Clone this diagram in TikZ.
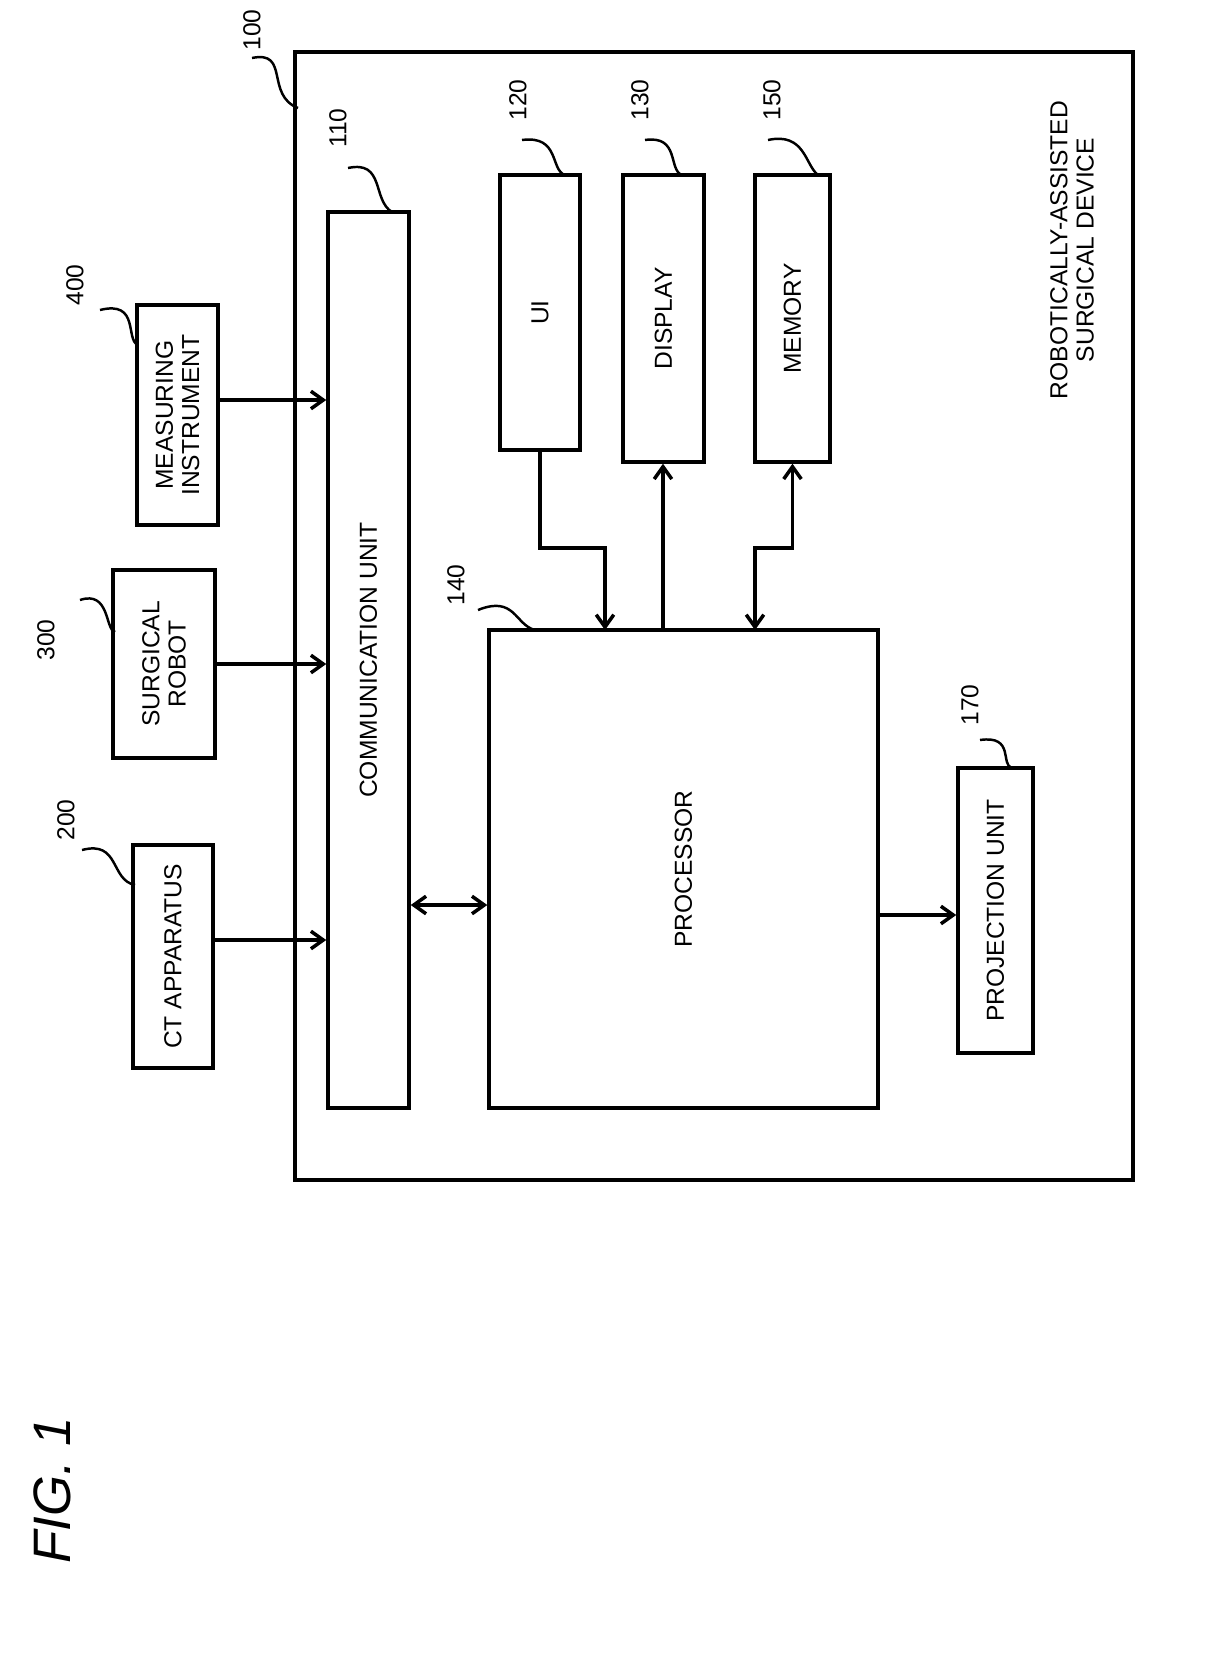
\documentclass[tikz,border=0pt]{standalone}
\usepackage{fontspec}
\setmainfont{Liberation Sans}
\usetikzlibrary{arrows.meta}
\begin{document}
\begin{tikzpicture}[x=0.02cm,y=-0.02cm,line width=2pt,
	box/.style={draw,inner sep=0pt,font=\fontsize{14}{15}\selectfont},
	txt/.style={rotate=90,align=center,font=\fontsize{14}{15}\selectfont},
	num/.style={rotate=90,font=\fontsize{14}{15}\selectfont},
	arr/.style={-{Straight Barb[length=7pt,width=10pt]}},
	darr/.style={{Straight Barb[length=7pt,width=10pt]}-{Straight Barb[length=7pt,width=10pt]}},
	lead/.style={line width=1.4pt}]
	\useasboundingbox (0,0) rectangle (1217,1654);
	% outer device
	\node[box,minimum width=16.76cm,minimum height=22.56cm] (dev) at (714,616) {};
	\node[txt] (devtxt) at (1072,250) {ROBOTICALLY-ASSISTED\\SURGICAL DEVICE};
	% blocks inside
	\node[box,minimum width=1.62cm,minimum height=17.92cm] (comm) at (368.5,660) {};
	\node[txt] at (comm) {COMMUNICATION UNIT};
	\node[box,minimum width=1.6cm,minimum height=5.5cm] (ui) at (540,312.5) {};
	\node[txt] at (ui) {UI};
	\node[box,minimum width=1.62cm,minimum height=5.74cm] (disp) at (663.5,318.5) {};
	\node[txt] at (disp) {DISPLAY};
	\node[box,minimum width=1.5cm,minimum height=5.74cm] (mem) at (792.5,318.5) {};
	\node[txt] at (mem) {MEMORY};
	\node[box,minimum width=7.78cm,minimum height=9.56cm] (proc) at (683.5,869) {};
	\node[txt] at (proc) {PROCESSOR};
	\node[box,minimum width=1.5cm,minimum height=5.7cm] (proj) at (995.5,910.5) {};
	\node[txt] at (proj) {PROJECTION UNIT};
	% outside blocks
	\node[box,minimum width=1.6cm,minimum height=4.46cm] (ct) at (173,956.5) {};
	\node[txt] at (ct) {CT APPARATUS};
	\node[box,minimum width=2.04cm,minimum height=3.76cm] (robot) at (164,664) {};
	\node[txt] at (robot) {SURGICAL\\ROBOT};
	\node[box,minimum width=1.62cm,minimum height=4.4cm] (meas) at (177.5,415) {};
	\node[txt] at (meas) {MEASURING\\INSTRUMENT};
	% helper points
	\coordinate (uiin) at (605,630);
	\coordinate (dispout) at (663,630);
	\coordinate (memin) at (755,630);
	% connectors
	\draw[arr] (ct.east |- 0,940) -- (comm.west |- 0,940);
	\draw[arr] (robot.east) -- (robot.east -| comm.west);
	\draw[arr] (meas.east |- 0,400) -- (comm.west |- 0,400);
	\draw[darr] (comm.east |- 0,905) -- (proc.west |- 0,905);
	\draw[arr] (proc.east |- 0,915) -- (proj.west |- 0,915);
	\draw[arr] (ui.south) -- (ui.south |- 0,548) -| (uiin);
	\draw[arr] (dispout) -- (dispout |- disp.south);
	\draw[darr] (memin) -- (memin |- 0,548) -| (mem.south);
	% reference numerals
	\node[num] (n100) at (252,30) {100};
	\draw[lead] (252,58) .. controls (290,50) and (265,95) .. (298,108);
	\node[num] (n110) at (338,128) {110};
	\draw[lead] (348,168) .. controls (385,160) and (372,200) .. (392,212);
	\node[num] (n120) at (518,100) {120};
	\draw[lead] (522,140) .. controls (560,135) and (550,170) .. (565,175);
	\node[num] (n130) at (640,100) {130};
	\draw[lead] (645,140) .. controls (680,135) and (668,170) .. (682,175);
	\node[num] (n150) at (772,100) {150};
	\draw[lead] (768,140) .. controls (805,132) and (805,165) .. (818,175);
	\node[num] (n140) at (456,585) {140};
	\draw[lead] (478,610) .. controls (515,595) and (515,625) .. (535,630);
	\node[num] (n170) at (970,705) {170};
	\draw[lead] (980,740) .. controls (1015,735) and (1000,765) .. (1012,768);
	\node[num] (n200) at (66,820) {200};
	\draw[lead] (82,850) .. controls (120,840) and (110,880) .. (135,885);
	\node[num] (n300) at (46,640) {300};
	\draw[lead] (80,600) .. controls (110,590) and (105,630) .. (115,632);
	\node[num] (n400) at (75,285) {400};
	\draw[lead] (100,310) .. controls (140,300) and (125,340) .. (138,345);
	% figure title
	\node[rotate=90,font=\fontsize{30}{32}\selectfont\itshape] (fig) at (52,1490) {FIG. 1};
\end{tikzpicture}
\end{document}
